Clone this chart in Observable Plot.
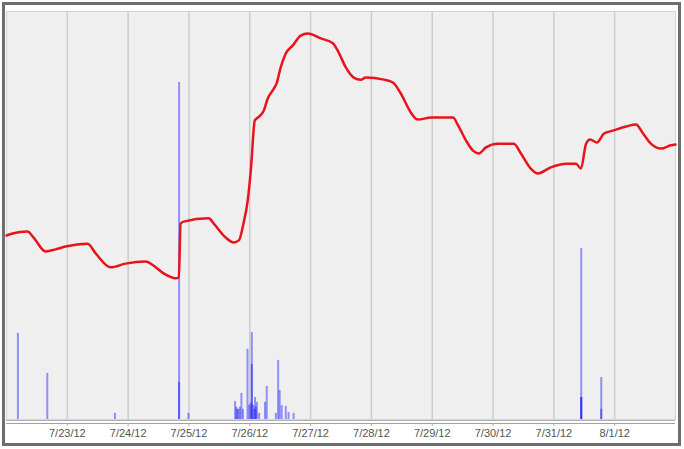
<!DOCTYPE html>
<html><head><meta charset="utf-8">
<script src="https://cdn.jsdelivr.net/npm/d3@7"></script>
<script src="https://cdn.jsdelivr.net/npm/@observablehq/plot@0.6"></script>
<style>
html,body{margin:0;padding:0;background:#fff;}
#frame{position:absolute;left:2px;top:2px;width:679px;height:444px;box-sizing:border-box;border:3px solid #6e6e6e;background:#fff;overflow:hidden;}
#frame svg{display:block;}
</style></head><body><div id="frame"></div>
<script>
// Red line series
const lineTimes = [
 "2012-07-22T00:00","2012-07-22T02:24","2012-07-22T08:18","2012-07-22T10:42","2012-07-22T15:24","2012-07-22T19:24","2012-07-22T23:18",
 "2012-07-23T08:00","2012-07-23T11:12","2012-07-23T17:06","2012-07-23T23:00",
 "2012-07-24T06:54","2012-07-24T10:06","2012-07-24T14:00","2012-07-24T18:48","2012-07-24T20:00","2012-07-24T20:42","2012-07-24T21:54",
 "2012-07-25T07:48","2012-07-25T09:48","2012-07-25T14:30","2012-07-25T17:42","2012-07-25T19:42","2012-07-25T21:36","2012-07-25T23:12",
 "2012-07-26T00:24","2012-07-26T02:00","2012-07-26T03:12","2012-07-26T05:30","2012-07-26T07:06","2012-07-26T09:30","2012-07-26T10:36","2012-07-26T12:12","2012-07-26T14:12","2012-07-26T17:00","2012-07-26T20:06","2012-07-26T22:54",
 "2012-07-27T04:00","2012-07-27T08:48","2012-07-27T10:42","2012-07-27T13:54","2012-07-27T17:00","2012-07-27T19:48","2012-07-27T21:48",
 "2012-07-28T04:54","2012-07-28T08:30","2012-07-28T11:36","2012-07-28T15:36","2012-07-28T18:18","2012-07-28T23:30",
 "2012-07-29T08:12","2012-07-29T10:12","2012-07-29T13:18","2012-07-29T16:06","2012-07-29T18:24","2012-07-29T21:12",
 "2012-07-30T01:54","2012-07-30T08:12","2012-07-30T11:00","2012-07-30T14:54","2012-07-30T17:42","2012-07-30T22:48",
 "2012-07-31T04:48","2012-07-31T08:42","2012-07-31T10:42","2012-07-31T12:42","2012-07-31T14:18","2012-07-31T17:00","2012-07-31T19:48","2012-07-31T23:18",
 "2012-08-01T04:30","2012-08-01T08:24","2012-08-01T11:12","2012-08-01T14:18","2012-08-01T18:18","2012-08-01T22:12","2012-08-02T00:00"
];
const lineValues = [
 45.1,45.6,46.1,44.6,41.2,41.7,42.4,
 43.1,40.7,37.3,38.2,
 38.7,37.7,35.8,34.6,34.8,48.0,48.5,
 49.3,48.0,44.6,43.4,43.9,48.3,53.7,
 61.0,73.3,74.0,75.7,78.7,81.1,82.4,86.3,89.7,91.7,94.1,94.6,
 93.4,92.2,90.4,86.3,83.8,83.3,83.8,
 83.3,82.6,79.9,75.2,73.5,74.0,
 74.0,72.1,68.4,65.9,65.2,66.7,
 67.6,67.6,65.2,61.5,60.3,61.8,
 62.7,62.7,61.5,67.6,68.6,67.9,70.1,70.8,
 71.8,72.3,70.1,67.6,66.4,67.2,67.4
];
// Blue bar series
const barTimes = [
 "2012-07-22T04:30","2012-07-22T16:06","2012-07-23T18:48",
 "2012-07-24T20:06","2012-07-24T20:06","2012-07-24T23:48",
 "2012-07-25T18:12","2012-07-25T18:42","2012-07-25T19:06","2012-07-25T19:30","2012-07-25T20:06","2012-07-25T20:42","2012-07-25T21:18",
 "2012-07-25T23:06","2012-07-25T23:48","2012-07-26T00:24","2012-07-26T00:48","2012-07-26T00:48","2012-07-26T01:24","2012-07-26T01:48",
 "2012-07-26T02:06","2012-07-26T02:24","2012-07-26T02:48","2012-07-26T03:42","2012-07-26T06:00","2012-07-26T06:42",
 "2012-07-26T10:18","2012-07-26T11:12","2012-07-26T11:48","2012-07-26T12:36","2012-07-26T14:12","2012-07-26T15:18","2012-07-26T17:18",
 "2012-07-31T10:48","2012-07-31T10:48","2012-07-31T10:48","2012-07-31T18:42","2012-07-31T18:42"
];
const barValues = [
 21.1,11.3,1.5,
 82.6,9.1,1.5,
 4.4,3.0,2.5,2.5,3.0,6.4,2.5,
 17.2,3.5,4.0,21.3,13.5,3.5,2.5,
 5.4,3.0,4.2,1.5,4.2,8.1,
 1.5,14.5,7.1,3.4,3.2,1.7,1.5,
 41.9,5.4,5.4,10.3,2.5
];
const tickDates = ["2012-07-23","2012-07-24","2012-07-25","2012-07-26","2012-07-27","2012-07-28","2012-07-29","2012-07-30","2012-07-31","2012-08-01"];
const tickLabels = ["7/23/12","7/24/12","7/25/12","7/26/12","7/27/12","7/28/12","7/29/12","7/30/12","7/31/12","8/1/12"];

const parse = s => new Date(s.length <= 10 ? s + "T00:00Z" : s + "Z");
const line = lineTimes.map((t, i) => ({t: parse(t), v: lineValues[i]}));
const bars = barTimes.map((t, i) => ({t: parse(t), v: barValues[i]}));
const ticks = tickDates.map(parse);
const labelOf = new Map(ticks.map((d, i) => [+d, tickLabels[i]]));

const chart = Plot.plot({
  width: 673,
  height: 438,
  marginLeft: 1,
  marginRight: 3,
  marginTop: 6,
  marginBottom: 24,
  style: {background: "#fff", fontFamily: "Liberation Sans, Arial, sans-serif"},
  x: {type: "utc", domain: [parse("2012-07-22"), parse("2012-08-02")], axis: null, label: null},
  y: {domain: [0, 100], axis: null, label: null},
  marks: [
    Plot.frame({fill: "#efefef", stroke: "#d4d4d4"}),
    Plot.gridX(ticks, {stroke: "#cdcdcd", strokeOpacity: 1, strokeWidth: 1.5}),
    Plot.ruleX(bars, {x: "t", y1: 0, y2: "v", stroke: "#0000ff", strokeOpacity: 0.4, strokeWidth: 2}),
    Plot.line(line, {x: "t", y: "v", stroke: "#e8141b", strokeWidth: 2.5, curve: "monotone-x"}),
    Plot.ruleY([0], {stroke: "#b0b0b0", strokeWidth: 1, dy: 1}),
    Plot.ruleY([0], {stroke: "#a0a0a0", strokeWidth: 1, dy: 4}),
    Plot.axisX(ticks, {tickFormat: d => labelOf.get(+d), label: null, tickSize: 3, dy: 4, tickPadding: 3, fontSize: 11, color: "#555", stroke: "#aaa"})
  ]
});
document.getElementById("frame").appendChild(chart);
</script>
</body></html>
